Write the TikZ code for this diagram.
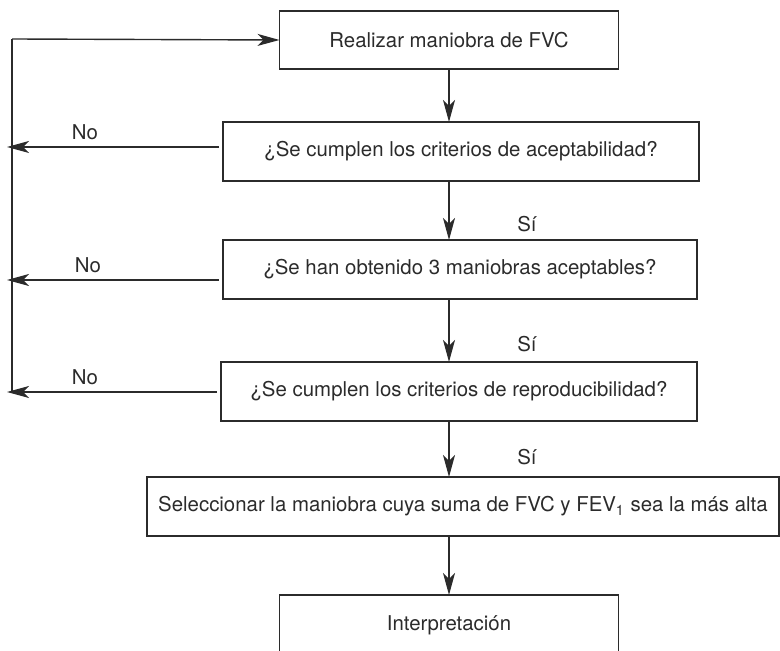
\documentclass[tikz,border=0pt]{standalone}
\usepackage{fontspec}
\setmainfont{TeX Gyre Heros}
\usetikzlibrary{arrows.meta}
\definecolor{ink}{HTML}{2B2B2B}

\begin{document}
\begin{tikzpicture}[x=0.5pt,y=-0.5pt,
        box/.style={draw=ink,line width=.7pt,outer sep=0pt,minimum height=29.5pt,
        anchor=center,text=ink,font=\fontsize{10.2}{12}\selectfont},
        flow/.style={draw=ink,line width=.7pt,-{Stealth[length=11pt,width=6pt,inset=3pt]}},
        lbl/.style={text=ink,font=\fontsize{10.2}{12}\selectfont}]
        \useasboundingbox (0,0) rectangle (780,651);

        \node (b1) [box,minimum width=169.5pt,minimum height=29pt] at (449,40) {Realizar maniobra de FVC};
        \node (b2) [box,minimum width=238pt] at (461,151.5) {¿Se cumplen los criterios de aceptabilidad?};
        \node (b3) [box,minimum width=237pt] at (460,269.5) {¿Se han obtenido 3 maniobras aceptables?};
        \node (b4) [box,minimum width=238pt] at (459,391.5) {¿Se cumplen los criterios de reproducibilidad?};
        \node (b5) [box,minimum width=316pt] at (463,506.5) {Seleccionar la maniobra cuya suma de FVC y FEV\textsubscript{1} sea la más alta};
        \node (b6) [box,minimum width=169.5pt,minimum height=30pt] at (449,625) {Interpretación};

        % back line
        \coordinate (top) at (12,39);
        \coordinate (bot) at (12,392);
        \draw[draw=ink,line width=.7pt] (bot) -- (top);
        \draw[flow] (top) -- (b1.west);

        % No branches
        \foreach \i/\y/\x in {2/147/85, 3/280/88, 4/392/85}{
            \coordinate (n\i) at (7,\y);
            \draw[flow,shorten <=2pt] (b\i.west |- n\i) -- (n\i);
            \node (no\i) [lbl] at (\x,\y-15) {No};
        }

        % Si branches
        \draw[flow] (b1.south) -- (b1 |- b2.north);
        \foreach \i/\j/\y in {2/3/224, 3/4/344, 4/5/457}{
            \draw[flow] (b1 |- b\i.south) -- (b1 |- b\j.north);
            \node (si\i) [lbl] at (527,\y) {Sí};
        }
        \draw[flow] (b1 |- b5.south) -- (b6.north);
    \end{tikzpicture}
\end{document}
